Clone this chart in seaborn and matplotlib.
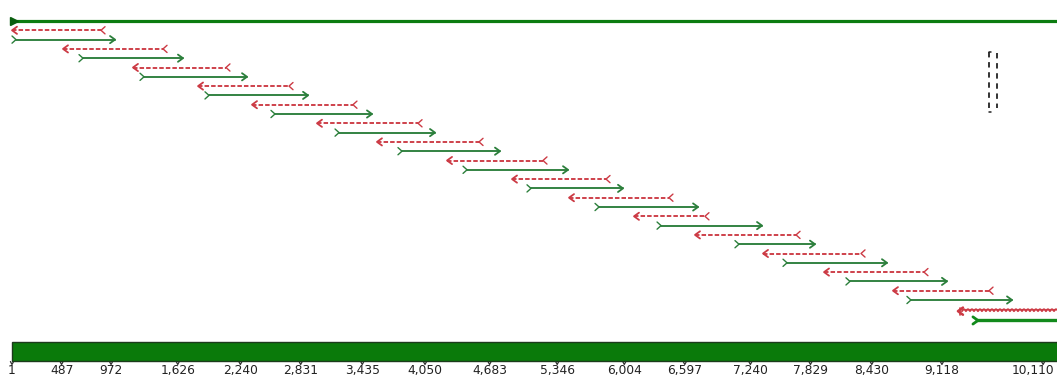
import numpy as np
import pandas as pd
import matplotlib
matplotlib.use("Agg")
import matplotlib.pyplot as plt
from matplotlib.patches import Rectangle
import seaborn as sns

# ---------------- data (bp coordinates) ----------------
seq_length = 10245
tick_positions = [1, 487, 972, 1626, 2240, 2831, 3435, 4050, 4683,
                  5346, 6004, 6597, 7240, 7829, 8430, 9118, 10110]
tick_labels = ["1", "487", "972", "1,626", "2,240", "2,831", "3,435", "4,050", "4,683",
               "5,346", "6,004", "6,597", "7,240", "7,829", "8,430", "9,118", "10,110"]

reverse_starts = [1, 501, 1187, 1825, 2354, 2991, 3579, 4266, 4903, 5462, 6099, 6697, 7364, 7962, 8638]
reverse_ends = [913, 1521, 2138, 2756, 3383, 4021, 4619, 5246, 5864, 6481, 6834, 7727, 8364, 8981, 9619]
forward_starts = [1, 658, 1256, 1893, 2540, 3168, 3785, 4423, 5050, 5717, 6325, 7089, 7560, 8177, 8775]
forward_ends = [1011, 1677, 2305, 2903, 3530, 4148, 4785, 5452, 5991, 6727, 7354, 7873, 8579, 9167, 9805]
last_reverse = [9275, 10245]
last_forward = [9422, 10245]
marker_box = [9579, 9658]

# ---------------- styling / layout ----------------
GREEN = "#2b7f3b"
RED = "#cc3a44"
TOPGREEN = "#0c7c10"
BARGREEN = "#0a7a0a"
W, H = 1057, 383
BP_PER_PX = 1 / 0.102
LANE_PX = 9.3
X0_PX, Y0_PX = 12, 21

sns.set_theme(style="white")
plt.rcParams["font.family"] = ["DejaVu Sans"]

fig = plt.figure(figsize=(W / 100, H / 100), dpi=100)
ax = fig.add_axes([0, 0, 1, 1])


def lane_of_px(y):
    return (y - Y0_PX) / LANE_PX


dx = BP_PER_PX          # one pixel in bp
dy = 1 / LANE_PX        # one pixel in lane units

# shafts through seaborn
rows = []
for i, (s, e) in enumerate(zip(reverse_starts, reverse_ends)):
    lane = 2 * i + 1
    rows += [dict(id=f"r{i}", kind="reverse", pos=s, lane=lane),
             dict(id=f"r{i}", kind="reverse", pos=e - 4 * dx, lane=lane)]
for i, (s, e) in enumerate(zip(forward_starts, forward_ends)):
    lane = 2 * i + 2
    rows += [dict(id=f"f{i}", kind="forward", pos=s + 4 * dx, lane=lane),
             dict(id=f"f{i}", kind="forward", pos=e, lane=lane)]
df = pd.DataFrame(rows)

sns.lineplot(data=df, x="pos", y="lane", units="id", estimator=None, sort=False,
             hue="kind", style="kind",
             palette={"forward": GREEN, "reverse": RED},
             dashes={"forward": "", "reverse": (2.4, 1.1)},
             linewidth=1.35, legend=False, ax=ax)

hh = 3.6 * dy
for i, (s, e) in enumerate(zip(reverse_starts, reverse_ends)):
    lane = 2 * i + 1
    ax.plot([s + 5 * dx, s, s + 5 * dx], [lane - hh, lane, lane + hh], color=RED, lw=1.3)
    ax.plot([e, e - 4 * dx, e], [lane - hh, lane, lane + hh], color=RED, lw=1.0)
for i, (s, e) in enumerate(zip(forward_starts, forward_ends)):
    lane = 2 * i + 2
    ax.plot([e - 5 * dx, e, e - 5 * dx], [lane - hh, lane, lane + hh], color=GREEN, lw=1.3)
    ax.plot([s, s + 4 * dx, s], [lane - hh, lane, lane + hh], color=GREEN, lw=1.0)

# top (full length) line
ax.plot([1, seq_length], [0, 0], color=TOPGREEN, lw=2.3, solid_capstyle="butt")
ax.plot([1 + 2 * dx], [0], marker=">", ms=5.5, color="#0a5f10", mec="#0a5f10")

# last pair: wavy reverse and thick forward
lane_r = 31.2
xs = np.linspace(last_reverse[0] + 4 * dx, last_reverse[1], 600)
wave = 0.2 * np.abs(np.sin(np.pi * (xs - xs[0]) / (4 * dx)))
ax.plot(xs, lane_r - wave, color=RED, lw=1.4)
ax.plot([last_reverse[0] + 5 * dx, last_reverse[0], last_reverse[0] + 5 * dx],
        [lane_r - hh, lane_r, lane_r + hh], color=RED, lw=1.8)
ax.plot([last_reverse[0] + 2 * dx] * 2, [lane_r - hh, lane_r + hh], color=RED, lw=1.2)

lane_f = 32.2
ax.plot([last_forward[0] + 3 * dx, last_forward[1]], [lane_f, lane_f], color="#128a1c", lw=2.4,
        solid_capstyle="butt")
ax.plot([last_forward[0], last_forward[0] + 5 * dx, last_forward[0]],
        [lane_f - hh, lane_f, lane_f + hh], color="#128a1c", lw=2.0)

# dashed marker box
for xb, (y1, y2) in zip(marker_box, [(52, 112), (53, 108)]):
    ax.plot([xb, xb], [lane_of_px(y1), lane_of_px(y2)], color="#222222", lw=1.3,
            ls=(0, (3.0, 2.6)))
ax.plot([marker_box[0], marker_box[0] + 2 * dx], [lane_of_px(52)] * 2, color="#222222", lw=1.1)
ax.plot([marker_box[0], marker_box[0] + 2 * dx], [lane_of_px(112)] * 2, color="#222222", lw=1.1)

# ruler bar
bar_top, bar_bot = lane_of_px(342), lane_of_px(361)
ax.add_patch(Rectangle((1, bar_top), seq_length + 200, bar_bot - bar_top,
                       facecolor=BARGREEN, edgecolor="#1c3a1c", lw=1.0, zorder=3))
t_top, t_bot = lane_of_px(361.5), lane_of_px(364.5)
for pos, lab in zip(tick_positions, tick_labels):
    ax.plot([pos - 1.6 * dx, pos, pos + 1.6 * dx], [t_top, t_bot, t_top], color="#333333", lw=0.9)
    if pos == tick_positions[-1]:
        ax.text(1 + (1054 - X0_PX) * dx, lane_of_px(364), lab, ha="right", va="top",
                fontsize=8.8, color="#222222")
    else:
        ax.text(pos, lane_of_px(364), lab, ha="center", va="top", fontsize=8.8, color="#222222")

ax.set_xlim(1 - X0_PX * dx, 1 + (W - X0_PX) * dx)
ax.set_ylim(lane_of_px(H), lane_of_px(0))
ax.set_axis_off()

fig.savefig("out.png", dpi=100)
